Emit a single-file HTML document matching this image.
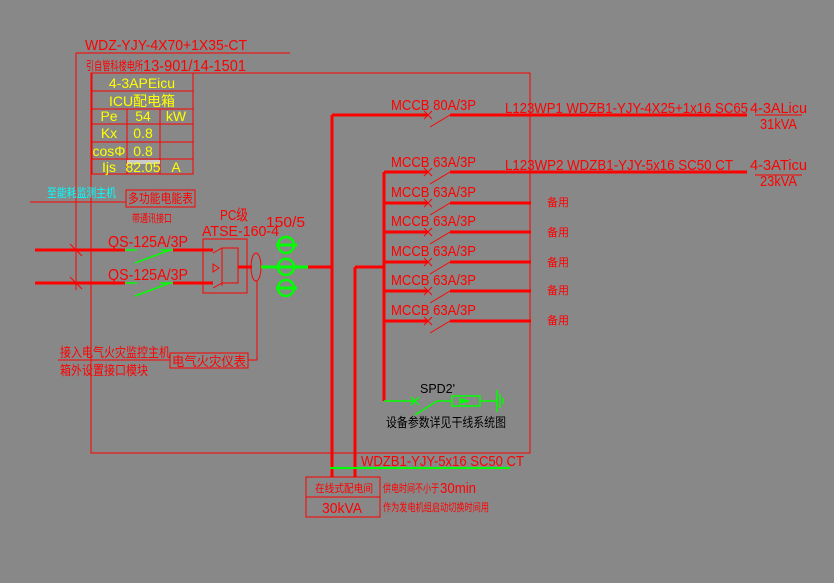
<!DOCTYPE html>
<html><head><meta charset="utf-8"><style>
html,body{margin:0;padding:0;background:#888;}
svg{display:block;}
text{font-family:"Liberation Sans","Noto Sans CJK SC",sans-serif;}
</style></head><body>
<svg width="834" height="583" viewBox="0 0 834 583" xmlns="http://www.w3.org/2000/svg">
<rect width="834" height="583" fill="#888"/>
<g fill="none" stroke="#ff0000" stroke-width="1">
<!-- main box -->
<rect x="91" y="73" width="439" height="380"/>
<!-- top lines -->
<line x1="76" y1="53" x2="290" y2="53"/>
<line x1="76" y1="53" x2="76" y2="290"/>
<!-- table -->
<rect x="92" y="73" width="101" height="101"/>
<line x1="92" y1="91" x2="193" y2="91"/>
<line x1="92" y1="109" x2="193" y2="109"/>
<line x1="92" y1="124" x2="193" y2="124"/>
<line x1="92" y1="142" x2="193" y2="142"/>
<line x1="92" y1="159" x2="193" y2="159"/>
<line x1="127" y1="109" x2="127" y2="174"/>
<line x1="160" y1="109" x2="160" y2="174"/>
<!-- energy meter -->
<line x1="30" y1="202" x2="126" y2="202"/>
<rect x="126" y="190" width="69" height="17"/>
<!-- ATSE -->
<rect x="203" y="239" width="44" height="54"/>
<polyline points="213,253 222,248 238,248 238,283 222,283 213,288"/>
<line x1="222" y1="248" x2="222" y2="286"/>
<polygon points="213,264 219,268 213,272"/>
<ellipse cx="256" cy="267" rx="5" ry="14"/>
<polyline points="257,281 257,360 248,360"/>
<rect x="170" y="353" width="78" height="15"/>
<line x1="58" y1="360" x2="170" y2="360"/>
<!-- tick marks -->
<line x1="70" y1="244" x2="82" y2="256"/>
<line x1="70" y1="277" x2="82" y2="289"/>
<!-- in-box vertical thin right line -->
<!-- MCCB x-marks and diagonals -->
<g>
<path d="M424,111 l8,8 M432,111 l-8,8 M430,127 L450,115"/>
<path d="M424,168 l8,8 M432,168 l-8,8 M430,184 L450,172"/>
<path d="M424,199 l8,8 M432,199 l-8,8 M430,215 L450,203"/>
<path d="M424,228 l8,8 M432,228 l-8,8 M430,244 L450,232"/>
<path d="M424,258 l8,8 M432,258 l-8,8 M430,274 L450,262"/>
<path d="M424,287 l8,8 M432,287 l-8,8 M430,303 L450,291"/>
<path d="M424,317 l8,8 M432,317 l-8,8 M430,333 L450,321"/>
</g>
<line x1="755" y1="115" x2="802" y2="115"/>
<line x1="755" y1="175" x2="802" y2="175"/>
<!-- bottom box -->
<rect x="306" y="477" width="74" height="40"/>
<line x1="306" y1="497" x2="380" y2="497"/>
</g>
<g stroke="#ff0000" stroke-width="3" fill="none">
<line x1="35" y1="250" x2="125" y2="250"/>
<line x1="35" y1="283" x2="125" y2="283"/>
<line x1="173" y1="250" x2="213" y2="250"/>
<line x1="173" y1="283" x2="213" y2="283"/>
<line x1="238" y1="267" x2="252" y2="267"/>
<line x1="308" y1="267" x2="332" y2="267"/>
<line x1="332" y1="115" x2="332" y2="477"/>
<line x1="332" y1="115" x2="428" y2="115"/>
<line x1="450" y1="115" x2="747" y2="115"/>
<line x1="355" y1="267" x2="355" y2="477"/>
<line x1="355" y1="267" x2="384" y2="267"/>
<line x1="384" y1="172" x2="384" y2="401"/>
<line x1="384" y1="172" x2="428" y2="172"/><line x1="450" y1="172" x2="747" y2="172"/>
<line x1="384" y1="203" x2="428" y2="203"/><line x1="450" y1="203" x2="531" y2="203"/>
<line x1="384" y1="232" x2="428" y2="232"/><line x1="450" y1="232" x2="531" y2="232"/>
<line x1="384" y1="262" x2="428" y2="262"/><line x1="450" y1="262" x2="531" y2="262"/>
<line x1="384" y1="291" x2="428" y2="291"/><line x1="450" y1="291" x2="531" y2="291"/>
<line x1="384" y1="321" x2="428" y2="321"/><line x1="450" y1="321" x2="531" y2="321"/>
</g>
<g stroke="#00ff00" stroke-width="1.5" fill="none">
<line x1="125" y1="250" x2="137" y2="250"/><line x1="160" y1="250" x2="173" y2="250"/>
<line x1="135" y1="263" x2="170" y2="250"/>
<line x1="125" y1="283" x2="137" y2="283"/><line x1="160" y1="283" x2="173" y2="283"/>
<line x1="135" y1="296" x2="170" y2="283"/>
<line x1="261" y1="267" x2="308" y2="267" stroke-width="3"/>
<circle cx="286" cy="245" r="8" stroke-width="2.5"/>
<circle cx="286" cy="267" r="8" stroke-width="2.5"/>
<circle cx="286" cy="288" r="8" stroke-width="2.5"/>
<line x1="276" y1="245" x2="297" y2="245" stroke-width="3"/>
<line x1="276" y1="288" x2="297" y2="288" stroke-width="3"/>
<line x1="384" y1="401" x2="415" y2="401"/>
<path d="M411,397 l8,8 M419,397 l-8,8"/>
<line x1="415" y1="415" x2="437" y2="401"/>
<line x1="437" y1="401" x2="452" y2="401"/>
<rect x="452" y="396" width="28" height="10"/>
<polygon points="460,399 469,401 460,403" fill="#00ff00"/>
<line x1="480" y1="401" x2="497" y2="401"/>
<line x1="497" y1="390" x2="497" y2="412"/>
<line x1="500" y1="394" x2="500" y2="408"/>
<line x1="503" y1="398" x2="503" y2="404"/>
<line x1="330" y1="468" x2="510" y2="468" stroke-width="2"/>
</g>
<g fill="#ff0000">
<text x="85" y="50" font-size="15" textLength="162" lengthAdjust="spacingAndGlyphs">WDZ-YJY-4X70+1X35-CT</text>
<text x="86" y="70" font-size="12" textLength="57" lengthAdjust="spacingAndGlyphs">引自管科楼电所</text>
<text x="143" y="71" font-size="16" textLength="103" lengthAdjust="spacingAndGlyphs">13-901/14-1501</text>
<text x="132" y="222" font-size="11" textLength="40" lengthAdjust="spacingAndGlyphs">带通讯接口</text>
<text x="128" y="203" font-size="13" textLength="65" lengthAdjust="spacingAndGlyphs">多功能电能表</text>
<text x="108" y="247" font-size="16" textLength="80" lengthAdjust="spacingAndGlyphs">QS-125A/3P</text>
<text x="108" y="280" font-size="16" textLength="80" lengthAdjust="spacingAndGlyphs">QS-125A/3P</text>
<text x="220" y="220" font-size="15" textLength="28" lengthAdjust="spacingAndGlyphs">PC级</text>
<text x="202" y="236" font-size="15" textLength="77" lengthAdjust="spacingAndGlyphs">ATSE-160-4</text>
<text x="266" y="227" font-size="15" textLength="39" lengthAdjust="spacingAndGlyphs">150/5</text>
<text x="60" y="357" font-size="13" textLength="110" lengthAdjust="spacingAndGlyphs">接入电气火灾监控主机</text>
<text x="60" y="375" font-size="13" textLength="88" lengthAdjust="spacingAndGlyphs">箱外设置接口模块</text>
<text x="172" y="366" font-size="13" textLength="74" lengthAdjust="spacingAndGlyphs">电气火灾仪表</text>
<g font-size="15">
<text x="391" y="110" textLength="85" lengthAdjust="spacingAndGlyphs">MCCB 80A/3P</text>
<text x="391" y="167" textLength="85" lengthAdjust="spacingAndGlyphs">MCCB 63A/3P</text>
<text x="391" y="197" textLength="85" lengthAdjust="spacingAndGlyphs">MCCB 63A/3P</text>
<text x="391" y="226" textLength="85" lengthAdjust="spacingAndGlyphs">MCCB 63A/3P</text>
<text x="391" y="256" textLength="85" lengthAdjust="spacingAndGlyphs">MCCB 63A/3P</text>
<text x="391" y="285" textLength="85" lengthAdjust="spacingAndGlyphs">MCCB 63A/3P</text>
<text x="391" y="315" textLength="85" lengthAdjust="spacingAndGlyphs">MCCB 63A/3P</text>
<text x="505" y="113" textLength="243" lengthAdjust="spacingAndGlyphs">L123WP1  WDZB1-YJY-4X25+1x16 SC65</text>
<text x="750" y="113" textLength="57" lengthAdjust="spacingAndGlyphs">4-3ALicu</text>
<text x="760" y="129" textLength="37" lengthAdjust="spacingAndGlyphs">31kVA</text>
<text x="505" y="170" textLength="228" lengthAdjust="spacingAndGlyphs">L123WP2  WDZB1-YJY-5x16 SC50 CT</text>
<text x="750" y="170" textLength="57" lengthAdjust="spacingAndGlyphs">4-3ATicu</text>
<text x="760" y="186" textLength="37" lengthAdjust="spacingAndGlyphs">23kVA</text>
<text x="361" y="466" textLength="163" lengthAdjust="spacingAndGlyphs">WDZB1-YJY-5x16 SC50 CT</text>
<text x="322" y="513" textLength="40" lengthAdjust="spacingAndGlyphs">30kVA</text>
<text x="440" y="493" textLength="36" lengthAdjust="spacingAndGlyphs">30min</text>
</g>
<g font-size="11">
<text x="547" y="206">备用</text>
<text x="547" y="236">备用</text>
<text x="547" y="266">备用</text>
<text x="547" y="294">备用</text>
<text x="547" y="324">备用</text>
<text x="315" y="492" textLength="58" lengthAdjust="spacingAndGlyphs">在线式配电间</text>
<text x="383" y="492" textLength="56" lengthAdjust="spacingAndGlyphs">供电时间不小于</text>
<text x="383" y="511" textLength="106" lengthAdjust="spacingAndGlyphs">作为发电机组启动切换时间用</text>
</g>
</g>
<text x="420" y="393" font-size="13" fill="#000" textLength="35" lengthAdjust="spacingAndGlyphs">SPD2'</text>
<text x="386" y="427" font-size="13" fill="#000" textLength="120" lengthAdjust="spacingAndGlyphs">设备参数详见干线系统图</text>
<text x="47" y="197" font-size="12" fill="#00ffff" textLength="69" lengthAdjust="spacingAndGlyphs">至能耗监测主机</text>
<rect x="127" y="160" width="33" height="4" fill="#ccc"/>
<g fill="#ffff00" font-size="14" text-anchor="middle">
<text x="142" y="88">4-3APEicu</text>
<text x="142" y="106">ICU配电箱</text>
<text x="109" y="121">Pe</text><text x="143" y="121">54</text><text x="176" y="121">kW</text>
<text x="109" y="138">Kx</text><text x="143" y="138">0.8</text>
<text x="109" y="156">cosΦ</text><text x="143" y="156">0.8</text>
<text x="109" y="172">Ijs</text><text x="143" y="172">82.05</text><text x="176" y="172">A</text>
</g>
</svg>
</body></html>
